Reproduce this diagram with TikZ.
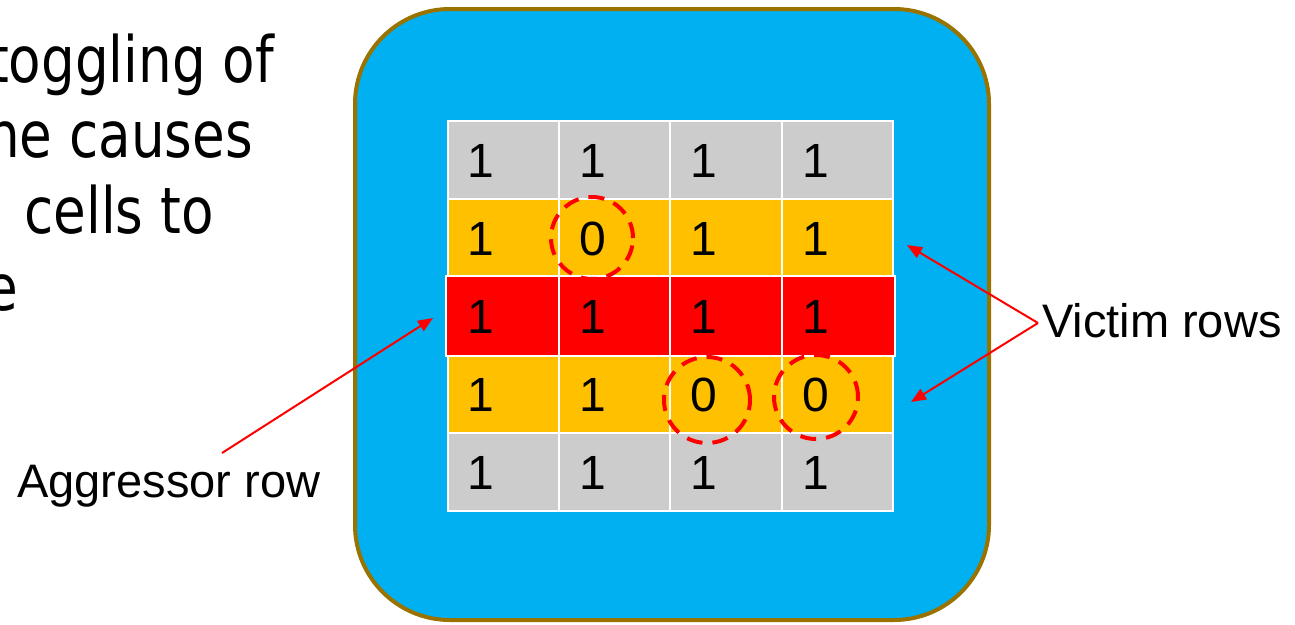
\documentclass[tikz,border=0pt]{standalone}
\usepackage{fontspec}
\setmainfont{Liberation Sans}
\newfontfamily\leftfont[FakeStretch=0.83]{DejaVu Sans}
\usetikzlibrary{arrows.meta}
\definecolor{boxblue}{HTML}{00B0F0}
\definecolor{boxgold}{HTML}{997200}
\definecolor{cellgray}{HTML}{CCCCCC}
\definecolor{cellamber}{HTML}{FFC000}
\definecolor{cellred}{HTML}{FF0000}
\tikzset{
  cell/.style={draw=white, line width=2pt, minimum width=111.4pt, minimum height=78pt, inner sep=0pt},
  digit/.style={font=\fontsize{48}{48}\selectfont, inner sep=0pt, text=black},
  flip/.style={draw=red, line width=4pt, dash pattern=on 16pt off 10pt},
  pointer/.style={draw=red, line width=2pt, -{Triangle[length=15pt,width=12pt]}},
  lbl/.style={font=\fontsize{47}{47}\selectfont, inner sep=0pt, anchor=base west},
  lefttext/.style={font=\leftfont\fontsize{64}{64}\selectfont, inner sep=0pt, anchor=base east},
}
\begin{document}
\begin{tikzpicture}[x=1pt, y=-1pt]
\useasboundingbox (0,0) rectangle (1295,624);
% outer bank
\draw[fill=boxblue, draw=boxgold, line width=4pt, rounded corners=95pt] (355,9) rectangle (989,620);
% left text (clipped by page, as in the reference)
\node[lefttext] (t1) at (274,82) {toggling of};
\node[lefttext] (t2) at (253,157) {ne causes};
\node[lefttext] (t3) at (214,233) {cells to};
\node[lefttext] (t4) at (18,310) {e};
% grid
\foreach \c/\x in {1/503.2,2/614.6,3/726,4/837.4}{
  \node[cell, fill=cellgray] (c1\c) at (\x,160) {};
  \node[cell, fill=cellamber] (c2\c) at (\x,238) {};
  \node[cell, fill=cellamber] (c4\c) at (\x,394) {};
  \node[cell, fill=cellgray] (c5\c) at (\x,471.5) {};
}
\foreach \c/\x/\w in {1/502.5/112.6,2/614.6/111.4,3/726/111.4,4/838.5/113.6}{
  \node[cell, fill=cellred, minimum height=80pt, minimum width=\w pt] (c3\c) at (\x,316) {};
}
% digits
\foreach \r/\y/\vals in {1/161/{1,1,1,1},2/239/{1,0,1,1},3/317/{1,1,1,1},4/395/{1,1,0,0},5/472.5/{1,1,1,1}}{
  \foreach \v [count=\c] in \vals {
    \pgfmathsetmacro{\xx}{481+(\c-1)*111.5}
    \node[digit] (d\r\c) at (\xx,\y) {\v};
  }
}
% flipped bits
\draw[flip] (592,238) circle (41pt);
\draw[flip] (707,400) circle (43pt);
\draw[flip] (816,397) circle (42pt);
% labels
\node[lbl] (vic) at (1042,337) {Victim rows};
\node[lbl] (agg) at (17,497) {Aggressor row};
\coordinate (vicpt) at (1038,323);
\coordinate (aggpt) at (222,453);
\coordinate (vt1) at (907,245);
\coordinate (vt2) at (911,402);
\coordinate (at1) at (433,318);
\draw[pointer] (vicpt) -- (vt1);
\draw[pointer] (vicpt) -- (vt2);
\draw[pointer] (aggpt) -- (at1);
\end{tikzpicture}
\end{document}
